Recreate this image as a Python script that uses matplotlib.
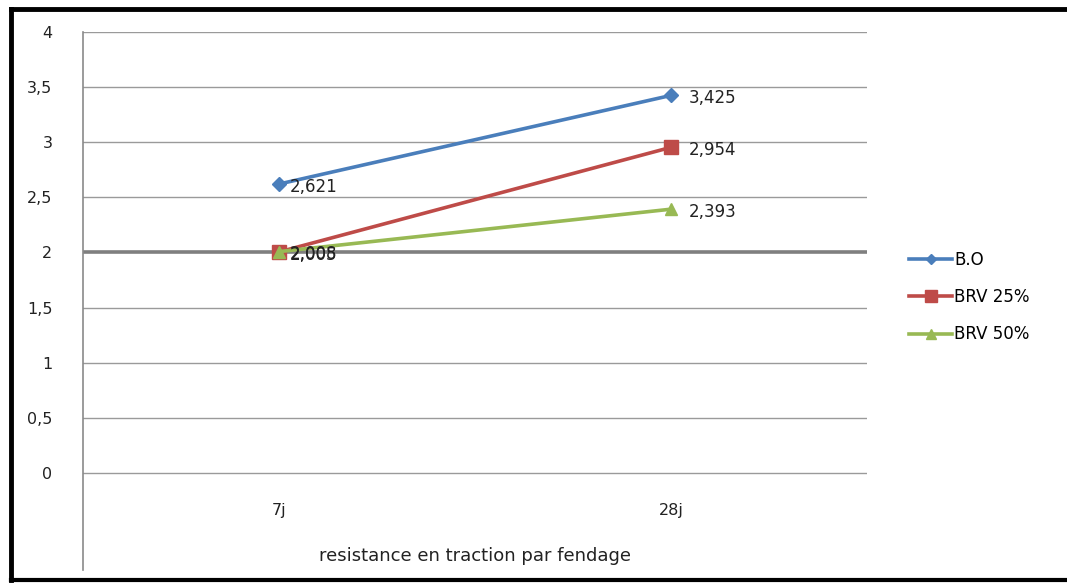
import matplotlib

matplotlib.use("Agg")
import matplotlib.pyplot as plt  # noqa: E402
from matplotlib.lines import Line2D  # noqa: E402

plt.rcParams["font.family"] = ["DejaVu Sans"]

categories = ["7j", "28j"]
series_names = ["B.O", "BRV 25%", "BRV 50%"]
bo = [2.621, 3.425]
brv25 = [2.005, 2.954]
brv50 = [2.008, 2.393]
label_bo = ["2,621", "3,425"]
label_brv25 = ["2,005", "2,954"]
label_brv50 = ["2,008", "2,393"]
yticks = [0, 0.5, 1, 1.5, 2, 2.5, 3, 3.5, 4]
ytick_labels = ["0", "0,5", "1", "1,5", "2", "2,5", "3", "3,5", "4"]
xlabel = "resistance en traction par fendage"

colors = ["#4a7ebb", "#be4b48", "#98b954"]
markers = ["D", "s", "^"]
msizes = [7, 10, 9]
fs = 12
label_dx = [8, 13]  # label offset (points) per category

fig = plt.figure(figsize=(10.67, 5.83), dpi=100)
ax = fig.add_axes([0.0778, 0.0223, 0.8126 - 0.0778, 0.9451 - 0.0223])

ymin = -0.88
ax.set_xlim(0, 2)
ax.set_ylim(ymin, 4)
xs = [0.5, 1.5]

for y in yticks:
    if y == 2:
        ax.axhline(y, color="#7f7f7f", lw=2.6, zorder=1)
    else:
        ax.axhline(y, color="#9a9a9a", lw=1.0, zorder=1)

data = [bo, brv25, brv50]
labels = [label_bo, label_brv25, label_brv50]
for vals, labs, c, m, ms, name in zip(data, labels, colors, markers, msizes, series_names):
    ax.plot(xs, vals, color=c, lw=2.6, marker=m, ms=ms, label=name, zorder=3)
    for x, v, t, dx in zip(xs, vals, labs, label_dx):
        ax.annotate(t, (x, v), xytext=(dx, -2), textcoords="offset points",
                    ha="left", va="center", fontsize=fs, color="#222222", zorder=4)

for sp in ["top", "right", "bottom"]:
    ax.spines[sp].set_visible(False)
ax.spines["left"].set_color("#8a8a8a")
ax.spines["left"].set_linewidth(1.2)

ax.set_yticks(yticks)
ax.set_yticklabels(ytick_labels, fontsize=fs - 0.5, color="#222222")
ax.tick_params(axis="y", length=0, pad=22)
ax.set_xticks([])
for x, c in zip(xs, categories):
    ax.text(x, -0.34, c, ha="center", va="center", fontsize=fs - 0.5, color="#222222")
ax.text(1.0, -0.75, xlabel, ha="center", va="center", fontsize=fs + 1, color="#222222")

handles = [Line2D([0], [0], color=c, lw=2.6, marker=m, ms=ms * 0.8)
           for c, m, ms in zip(colors, markers, msizes)]
fig.legend(handles, series_names, loc="center left", bbox_to_anchor=(0.838, 0.49),
           frameon=False, fontsize=fs, handlelength=2.6, handletextpad=0.1,
           labelspacing=1.15)

# outer frame
fig.add_artist(Line2D([11 / 1067, 11 / 1067], [1 - 9 / 583, 1 - 580 / 583],
                      transform=fig.transFigure, color="black", lw=3.5))
fig.add_artist(Line2D([11 / 1067, 1.0], [1 - 9 / 583, 1 - 9 / 583],
                      transform=fig.transFigure, color="black", lw=3.5))
fig.add_artist(Line2D([11 / 1067, 1.0], [1 - 580 / 583, 1 - 580 / 583],
                      transform=fig.transFigure, color="black", lw=3.0))

fig.savefig("out.png", dpi=100)
